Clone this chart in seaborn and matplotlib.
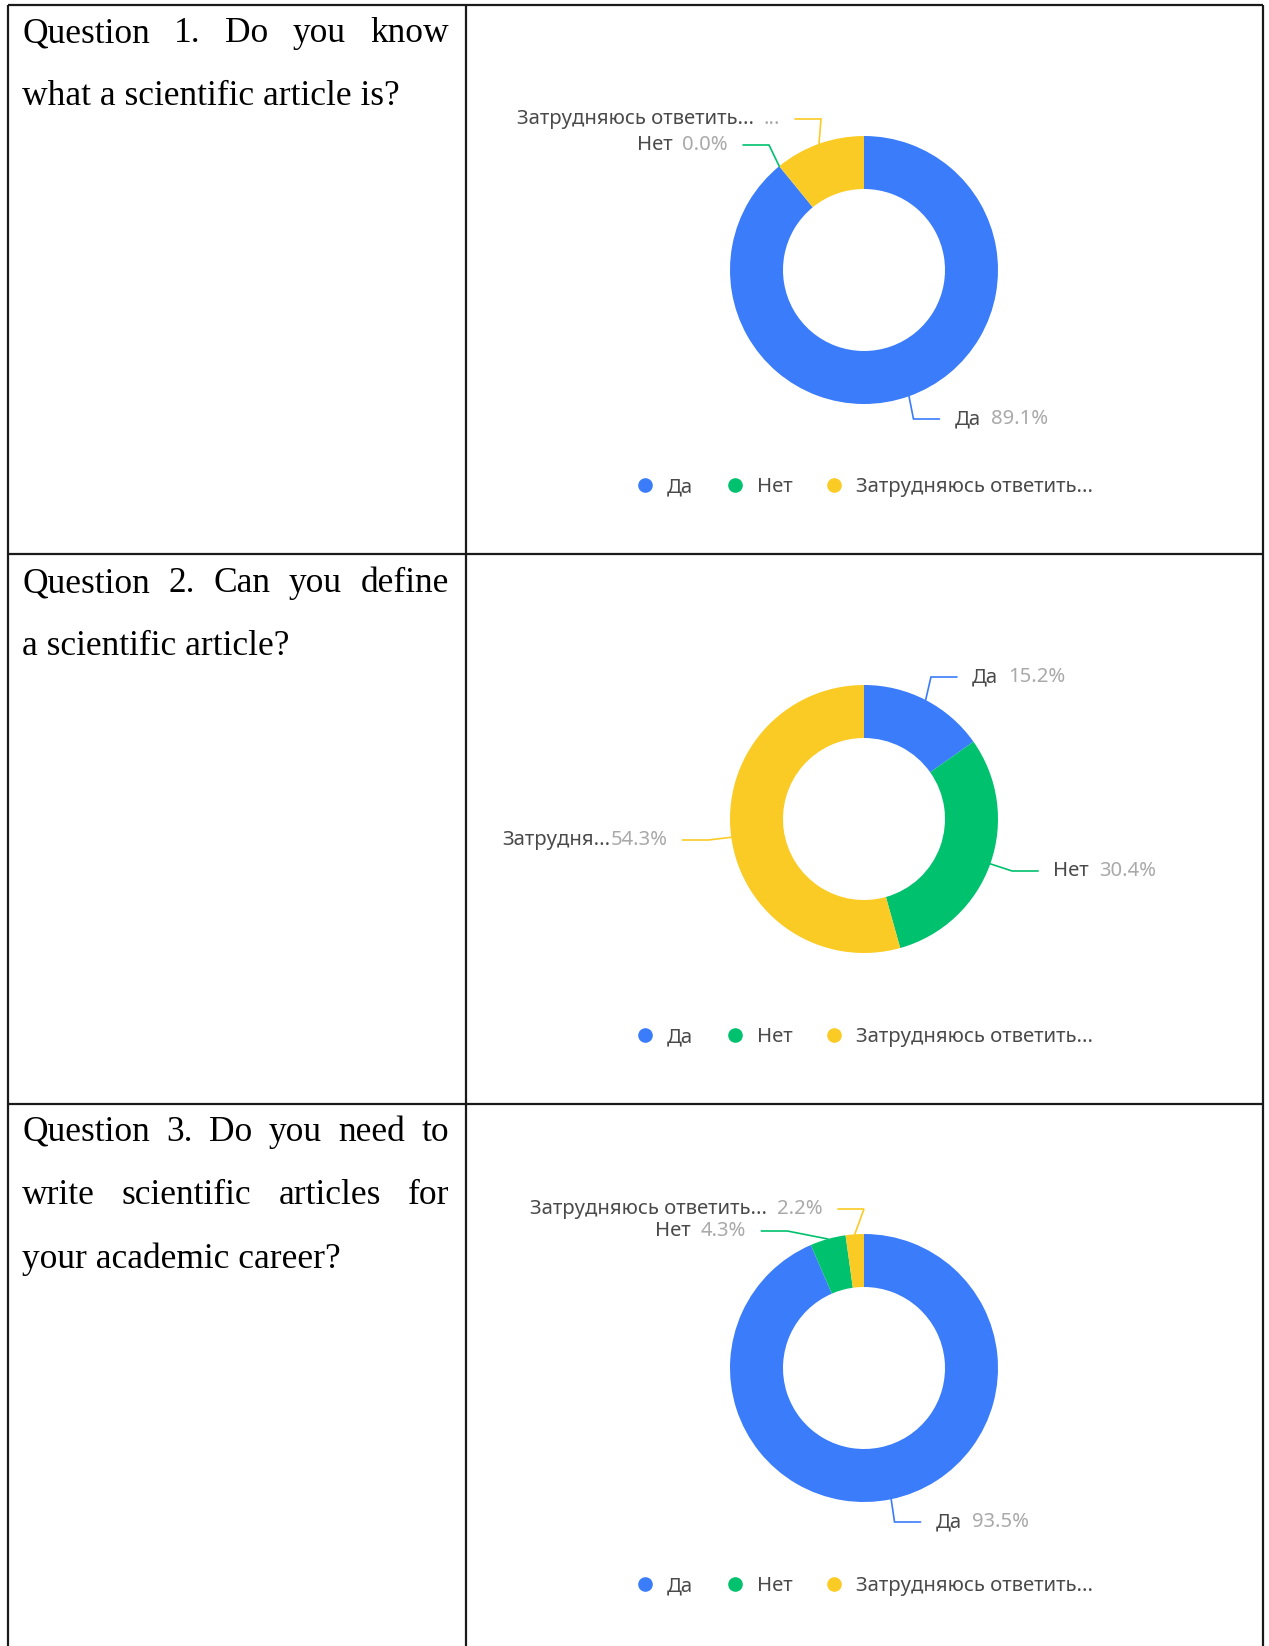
import numpy as np
import matplotlib
matplotlib.use("Agg")
import matplotlib.pyplot as plt
from matplotlib.lines import Line2D
import seaborn as sns

# ---- survey data -------------------------------------------------------
categories = ["Да", "Нет", "Затрудняюсь ответить..."]
colors = ["#3A7CF9", "#00C16E", "#FBCB25"]

question_lines = [
    ["Question 1. Do you know", "what a scientific article is?"],
    ["Question 2. Can you define", "a scientific article?"],
    ["Question 3. Do you need to", "write scientific articles for", "your academic career?"],
]

q1_values = [89.1, 0.0, 10.9]
q2_values = [15.2, 30.4, 54.3]
q3_values = [93.5, 4.3, 2.2]

# label text shown beside each slice (ECharts-style truncation)
q1_label_names = ["Да", "Нет", "Затрудняюсь ответить..."]
q2_label_names = ["Да", "Нет", "Затрудня..."]
q3_label_names = ["Да", "Нет", "Затрудняюсь ответить..."]
q1_label_pct = ["89.1%", "0.0%", "..."]
q2_label_pct = ["15.2%", "30.4%", "54.3%"]
q3_label_pct = ["93.5%", "4.3%", "2.2%"]

# ---- layout (pixels) ---------------------------------------------------
W, H = 1269, 1646
col_x = [8, 466, 1263]
row_y = [5, 554, 1104]
text_x0, text_x1 = 22, 449
line_baselines = [[42, 105], [592, 655], [1141, 1204, 1268]]
pie_cx = 864
pie_cy = [270, 819, 1368]
R_OUT, R_IN = 134, 81
legend_y = [487, 1037, 1586]
# vertical position of each slice label (after overlap avoidance)
label_y = [[419, 145, 119], [677, 871, 840], [1522, 1231, 1209]]

sns.set_theme(style="white")
plt.rcParams["font.family"] = ["Noto Sans", "DejaVu Sans"]

fig = plt.figure(figsize=(W / 100, H / 100), dpi=100)
ax = fig.add_axes([0, 0, 1, 1])

# ---- table grid --------------------------------------------------------
grid_kw = dict(color="#1a1a1a", lw=1.6, solid_capstyle="butt")
for x in col_x:
    ax.plot([x, x], [-row_y[0], -H], **grid_kw)
for y in row_y:
    ax.plot([col_x[0], col_x[-1]], [-y, -y], **grid_kw)

# ---- donuts ------------------------------------------------------------
all_values = [q1_values, q2_values, q3_values]
all_names = [q1_label_names, q2_label_names, q3_label_names]
all_pcts = [q1_label_pct, q2_label_pct, q3_label_pct]

renderer = fig.canvas.get_renderer()


def text_width(t):
    return t.get_window_extent(renderer=renderer).width


label_fs = 14.6
R2 = R_OUT + 23
for qi in range(3):
    cy = -pie_cy[qi]
    wedges, _ = ax.pie(
        all_values[qi], colors=colors, startangle=90, counterclock=False,
        radius=R_OUT, center=(pie_cx, cy),
        wedgeprops=dict(width=R_OUT - R_IN, edgecolor="none"),
    )
    for wi, w in enumerate(wedges):
        mid = np.deg2rad((w.theta1 + w.theta2) / 2)
        ax_ = pie_cx + R_OUT * np.cos(mid)
        ay_ = cy + R_OUT * np.sin(mid)
        side = 1 if np.cos(mid) >= 0 else -1
        ly = -label_y[qi][wi]
        dy = ly - cy
        kx = pie_cx + side * np.sqrt(max(R2 ** 2 - dy ** 2, 0))
        ex = kx + side * 26
        ax.plot([ax_, kx, ex], [ay_, ly, ly], color=colors[wi], lw=1.2,
                solid_joinstyle="miter")
        tx = ex + side * 15
        name = all_names[qi][wi]
        pct = all_pcts[qi][wi]
        gap = 0 if name.endswith("...") and len(name) < 14 else 10
        if side > 0:
            t1 = ax.text(tx, ly, name, ha="left", va="center",
                         fontsize=label_fs, color="#4a4a4a")
            ax.text(tx + text_width(t1) + gap, ly, pct, ha="left",
                    va="center", fontsize=label_fs, color="#a9a9a9")
        else:
            t2 = ax.text(tx, ly, pct, ha="right", va="center",
                         fontsize=label_fs, color="#a9a9a9")
            ax.text(tx - text_width(t2) - gap, ly, name, ha="right",
                    va="center", fontsize=label_fs, color="#4a4a4a")

    # legend row beneath each donut
    handles = [Line2D([], [], marker="o", ls="none", markersize=9.5,
                      markerfacecolor=c, markeredgecolor=c) for c in colors]
    fig.legend(handles, categories, loc="center", ncol=3, frameon=False,
               bbox_to_anchor=(864 / W, 1 - legend_y[qi] / H),
               fontsize=label_fs, labelcolor="#4a4a4a",
               handletextpad=0.6, columnspacing=1.55, handlelength=1.0)

# ---- question text (justified, serif) ----------------------------------
q_fs = 25.5
for qi, lines in enumerate(question_lines):
    for li, line in enumerate(lines):
        y = -line_baselines[qi][li]
        words = line.split(" ")
        last = li == len(lines) - 1
        if last:
            ax.text(text_x0, y, line, ha="left", va="baseline",
                    fontsize=q_fs, family="Liberation Serif", color="black")
            continue
        ts = [ax.text(0, y, wd, ha="left", va="baseline", fontsize=q_fs,
                      family="Liberation Serif", color="black") for wd in words]
        widths = [text_width(t) for t in ts]
        space = (text_x1 - text_x0 - sum(widths)) / (len(words) - 1)
        x = text_x0
        for t, wdt in zip(ts, widths):
            t.set_x(x)
            x += wdt + space

ax.set_xlim(0, W)
ax.set_ylim(-H, 0)
ax.set_aspect("auto")
ax.axis("off")

fig.savefig("out.png", dpi=100, facecolor="white")
